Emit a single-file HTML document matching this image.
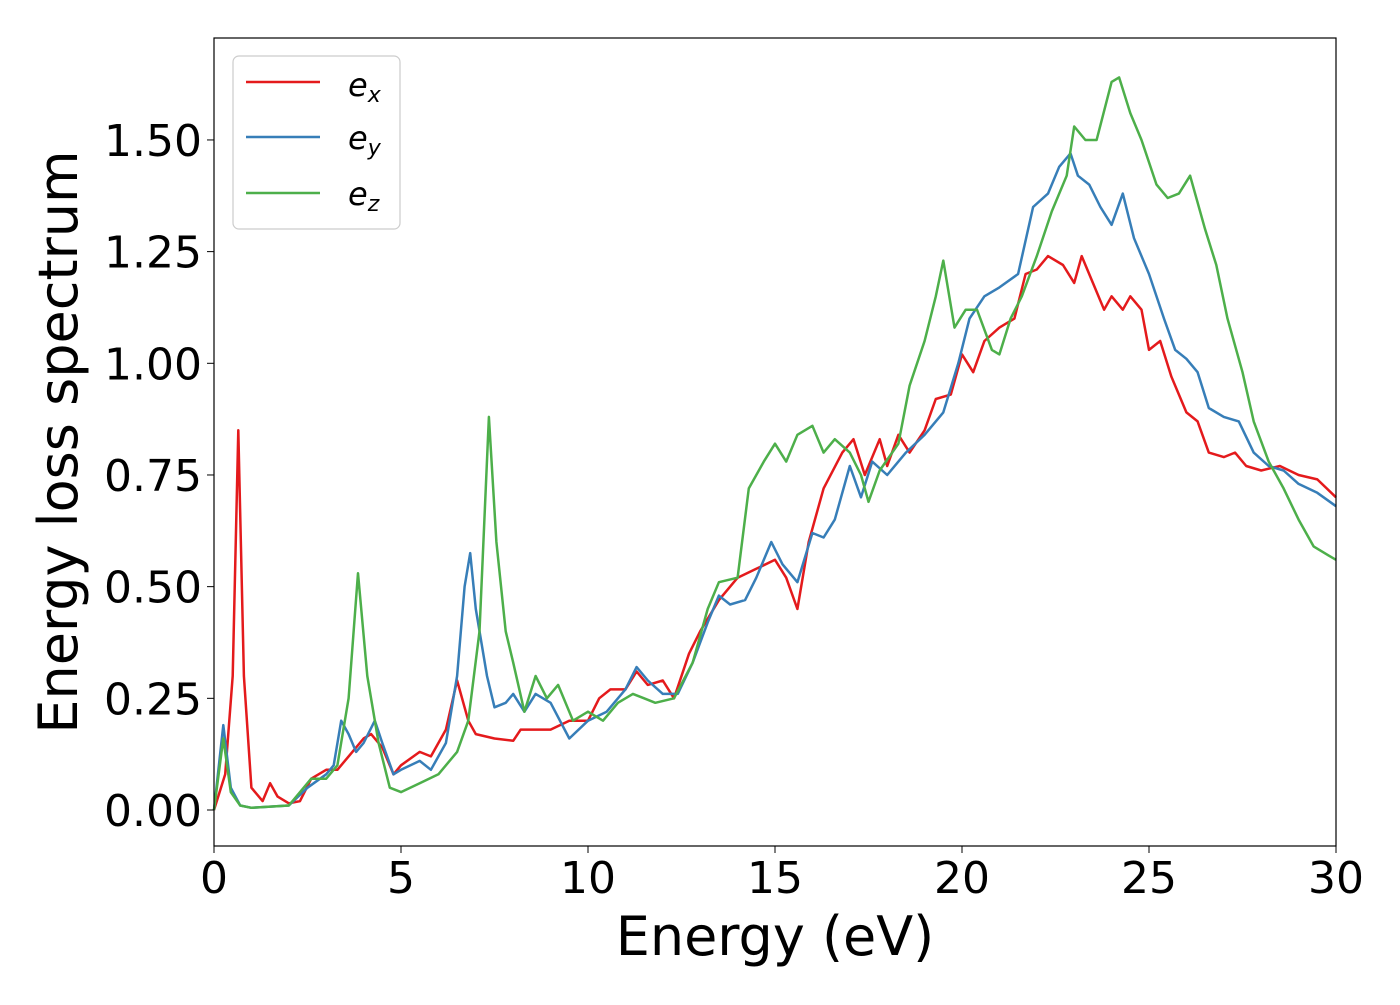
<!DOCTYPE html>
<html><head><meta charset="utf-8"><style>
body{margin:0;background:#fff;}
svg text{font-family:"DejaVu Sans","Liberation Sans",sans-serif;}
</style></head><body>
<svg id="chart" width="1400" height="1000" viewBox="0 0 1400 1000" xmlns="http://www.w3.org/2000/svg">
<rect width="1400" height="1000" fill="#fff"/>
<g id="series"></g>
<rect x="214" y="38" width="1122" height="808" fill="none" stroke="#000" stroke-width="1.2"/>
<g id="axes"></g>
<text x="775" y="955" font-size="54" text-anchor="middle">Energy (eV)</text>
<text transform="translate(77,442) rotate(-90)" font-size="54" text-anchor="middle">Energy loss spectrum</text>
<g>
<rect x="233" y="56" width="167" height="173" rx="6" fill="#fff" stroke="#ccc" stroke-width="1.2"/>
<line x1="246" y1="82" x2="320" y2="82" stroke="#e41a1c" stroke-width="2.5"/>
<text x="348" y="96" font-size="32" font-style="italic">e<tspan font-size="22" dy="6">x</tspan></text>
<line x1="246" y1="137" x2="320" y2="137" stroke="#377eb8" stroke-width="2.5"/>
<text x="348" y="149" font-size="32" font-style="italic">e<tspan font-size="22" dy="6">y</tspan></text>
<line x1="246" y1="193" x2="320" y2="193" stroke="#4daf4a" stroke-width="2.5"/>
<text x="348" y="205" font-size="32" font-style="italic">e<tspan font-size="22" dy="6">z</tspan></text>
</g>
</svg>
<script>
const xTicks=[0,5,10,15,20,25,30];
const yTicks=[0,0.25,0.5,0.75,1.0,1.25,1.5];
const yTickLabels=["0.00","0.25","0.50","0.75","1.00","1.25","1.50"];
const exE=[0,0.3,0.5,0.65,0.8,1.0,1.3,1.5,1.7,2.0,2.3,2.6,3.0,3.3,3.6,4.0,4.2,4.5,4.8,5.0,5.5,5.8,6.2,6.5,6.8,7.0,7.5,8.0,8.2,8.5,9.0,9.5,10.0,10.3,10.6,11.0,11.3,11.6,12.0,12.3,12.7,13.0,13.5,14.0,14.5,15.0,15.3,15.6,15.9,16.3,16.8,17.1,17.4,17.8,18.0,18.3,18.6,19.0,19.3,19.7,20.0,20.3,20.6,21.0,21.4,21.7,22.0,22.3,22.7,23.0,23.2,23.5,23.8,24.0,24.3,24.5,24.8,25.0,25.3,25.6,26.0,26.3,26.6,27.0,27.3,27.6,28.0,28.5,29.0,29.5,30];
const exV=[0,0.08,0.3,0.85,0.3,0.05,0.02,0.06,0.03,0.015,0.02,0.07,0.09,0.09,0.12,0.16,0.17,0.14,0.08,0.1,0.13,0.12,0.18,0.29,0.2,0.17,0.16,0.155,0.18,0.18,0.18,0.2,0.2,0.25,0.27,0.27,0.31,0.28,0.29,0.25,0.35,0.4,0.47,0.52,0.54,0.56,0.52,0.45,0.6,0.72,0.8,0.83,0.75,0.83,0.77,0.84,0.8,0.85,0.92,0.93,1.02,0.98,1.05,1.08,1.1,1.2,1.21,1.24,1.22,1.18,1.24,1.18,1.12,1.15,1.12,1.15,1.12,1.03,1.05,0.97,0.89,0.87,0.8,0.79,0.8,0.77,0.76,0.77,0.75,0.74,0.7];
const eyE=[0,0.25,0.45,0.7,1.0,2.0,2.5,3.0,3.2,3.4,3.6,3.8,4.0,4.3,4.5,4.8,5.0,5.5,5.8,6.2,6.5,6.7,6.85,7.0,7.3,7.5,7.8,8.0,8.3,8.6,9.0,9.5,10.0,10.5,11.0,11.3,11.6,12.0,12.4,12.8,13.2,13.5,13.8,14.2,14.5,14.9,15.2,15.6,16.0,16.3,16.6,17.0,17.3,17.6,18.0,18.5,19.0,19.5,19.9,20.2,20.6,21.0,21.5,21.9,22.3,22.6,22.9,23.1,23.4,23.7,24.0,24.3,24.6,25.0,25.4,25.7,26.0,26.3,26.6,27.0,27.4,27.8,28.2,28.6,29.0,29.5,30];
const eyV=[0,0.19,0.05,0.01,0.005,0.01,0.05,0.08,0.1,0.2,0.17,0.13,0.15,0.2,0.15,0.08,0.09,0.11,0.09,0.15,0.3,0.5,0.575,0.45,0.3,0.23,0.24,0.26,0.22,0.26,0.24,0.16,0.2,0.22,0.27,0.32,0.29,0.26,0.26,0.33,0.42,0.48,0.46,0.47,0.52,0.6,0.55,0.51,0.62,0.61,0.65,0.77,0.7,0.78,0.75,0.8,0.84,0.89,1.0,1.1,1.15,1.17,1.2,1.35,1.38,1.44,1.47,1.42,1.4,1.35,1.31,1.38,1.28,1.2,1.1,1.03,1.01,0.98,0.9,0.88,0.87,0.8,0.77,0.76,0.73,0.71,0.68];
const ezE=[0,0.25,0.45,0.7,1.0,2.0,2.6,3.0,3.3,3.6,3.85,4.1,4.4,4.7,5.0,5.5,6.0,6.5,6.8,7.1,7.35,7.55,7.8,8.0,8.3,8.6,8.9,9.2,9.6,10.0,10.4,10.8,11.2,11.5,11.8,12.3,12.8,13.2,13.5,14.0,14.3,14.7,15.0,15.3,15.6,16.0,16.3,16.6,17.0,17.3,17.5,17.8,18.3,18.6,19.0,19.3,19.5,19.8,20.1,20.4,20.8,21.0,21.3,21.6,22.0,22.4,22.8,23.0,23.3,23.6,24.0,24.2,24.5,24.8,25.2,25.5,25.8,26.1,26.5,26.8,27.1,27.5,27.8,28.2,28.6,29.0,29.4,29.8,30];
const ezV=[0,0.16,0.04,0.01,0.005,0.01,0.07,0.07,0.1,0.25,0.53,0.3,0.15,0.05,0.04,0.06,0.08,0.13,0.2,0.4,0.88,0.6,0.4,0.33,0.22,0.3,0.25,0.28,0.2,0.22,0.2,0.24,0.26,0.25,0.24,0.25,0.33,0.45,0.51,0.52,0.72,0.78,0.82,0.78,0.84,0.86,0.8,0.83,0.8,0.75,0.69,0.76,0.82,0.95,1.05,1.15,1.23,1.08,1.12,1.12,1.03,1.02,1.1,1.15,1.24,1.34,1.42,1.53,1.5,1.5,1.63,1.64,1.56,1.5,1.4,1.37,1.38,1.42,1.3,1.22,1.1,0.98,0.87,0.78,0.72,0.65,0.59,0.57,0.56];
const X0=214,X1=1336,Y0=810,PXU=446.7;
function xs(e){return X0+(e-0)/(30-0)*(X1-X0);}
function ys(v){return Y0-v*PXU;}
const NS="http://www.w3.org/2000/svg";
const axes=document.getElementById('axes');
xTicks.forEach(t=>{
 const l=document.createElementNS(NS,'line');
 
 
 l.setAttribute('x1',xs(t));l.setAttribute('x2',xs(t));l.setAttribute('y1',846);l.setAttribute('y2',853);l.setAttribute('stroke','#000');
 axes.appendChild(l);
 const tx=document.createElementNS(NS,'text');
 
 
 tx.setAttribute('x',xs(t));tx.setAttribute('y',893);tx.setAttribute('font-size','44');tx.setAttribute('text-anchor','middle');
 tx.textContent=t;axes.appendChild(tx);
});
yTicks.forEach((t,i)=>{
 const l=document.createElementNS(NS,'line');
 
 
 l.setAttribute('x1',207);l.setAttribute('x2',214);l.setAttribute('y1',ys(t));l.setAttribute('y2',ys(t));l.setAttribute('stroke','#000');
 axes.appendChild(l);
 const tx=document.createElementNS(NS,'text');
 
 
 tx.setAttribute('x',202);tx.setAttribute('y',ys(t)+16);tx.setAttribute('font-size','44');tx.setAttribute('text-anchor','end');
 tx.textContent=yTickLabels[i];axes.appendChild(tx);
});
const g=document.getElementById('series');
[[exE,exV,'#e41a1c','series-ex'],[eyE,eyV,'#377eb8','series-ey'],[ezE,ezV,'#4daf4a','series-ez']].forEach(s=>{
 const p=document.createElementNS(NS,'polyline');
 
 
 p.setAttribute('points',s[0].map((e,i)=>xs(e).toFixed(1)+','+ys(s[1][i]).toFixed(1)).join(' '));
 p.setAttribute('fill','none');p.setAttribute('stroke',s[2]);p.setAttribute('stroke-width','2.5');p.setAttribute('stroke-linejoin','round');
 g.appendChild(p);
});
</script>
</body></html>
